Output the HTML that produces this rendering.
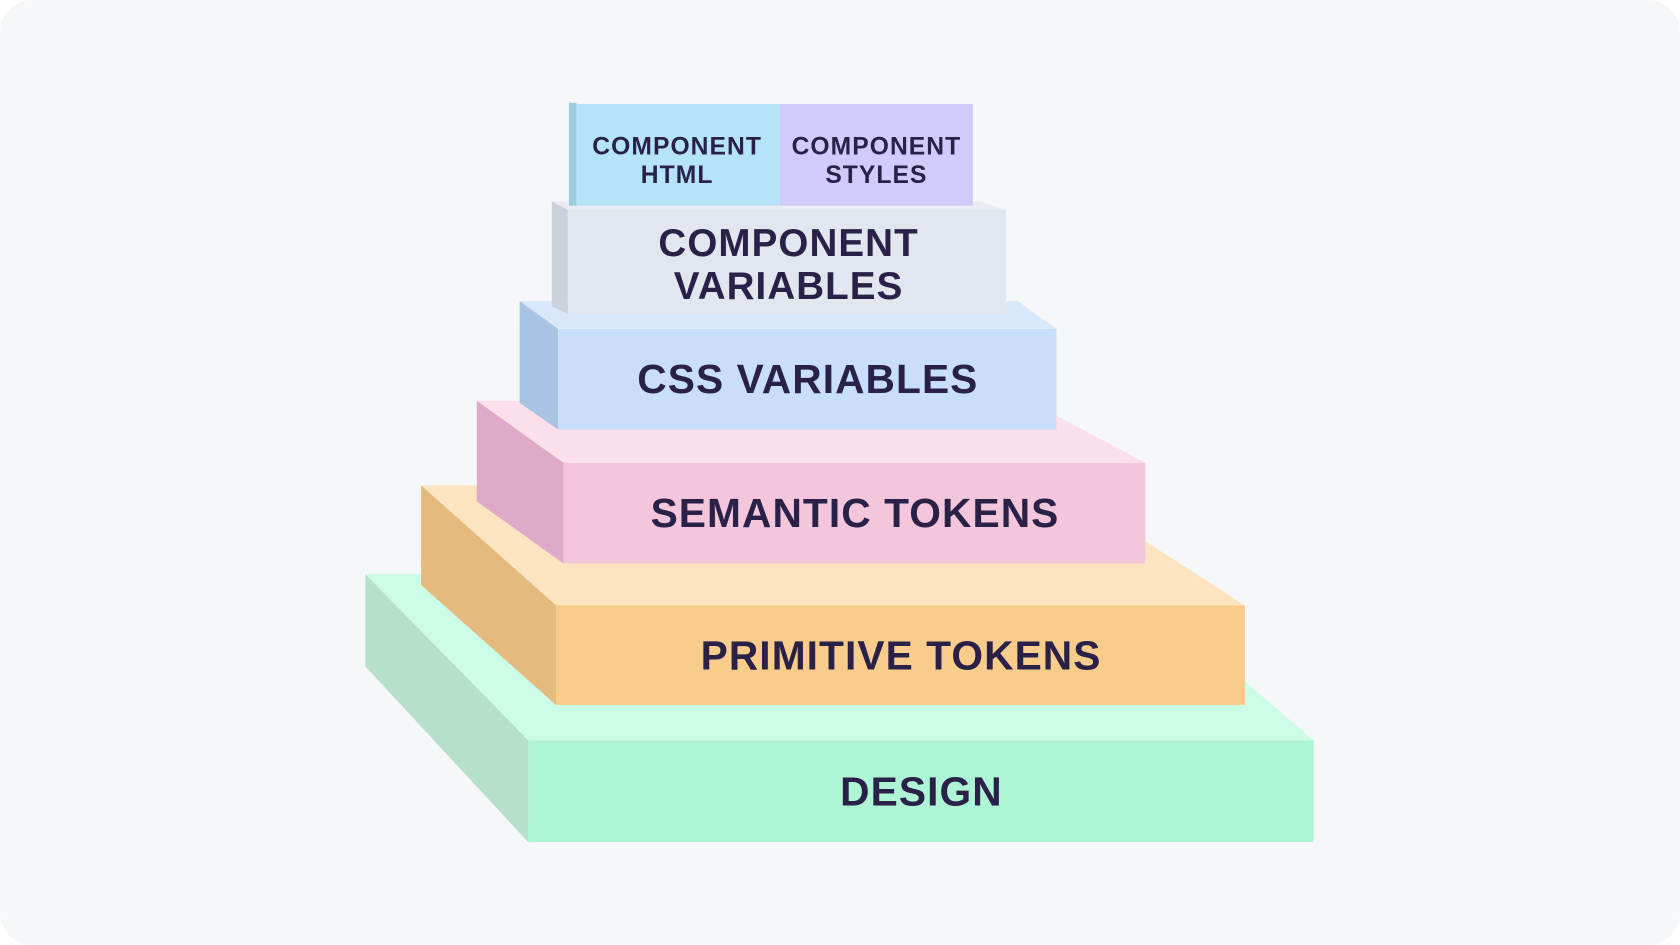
<!DOCTYPE html>
<html><head><meta charset="utf-8"><style>
html,body{margin:0;padding:0;background:#fff;}
svg{display:block}
text{font-family:"Liberation Sans",sans-serif;font-weight:bold;fill:#2a2148;text-anchor:middle;letter-spacing:1px}
</style></head><body>
<svg width="1680" height="945" viewBox="0 0 1568 882" preserveAspectRatio="none">
<rect x="0" y="0" width="1568" height="882" rx="30" fill="#f6f7f9"/>
<!-- Design -->
<polygon points="341,536 1046,536 1226,691 493,691" fill="#ccfbe6"/>
<polygon points="341,536 493,691 493,786 341,622" fill="#b6dfcc"/>
<rect x="493" y="691" width="733" height="95" fill="#aef5d6"/>
<text x="860" y="752" font-size="38">DESIGN</text>
<!-- Primitive -->
<polygon points="393,453 988,453 1162,565 519,565" fill="#fde4c1"/>
<polygon points="393,453 519,565 519,658 393,546" fill="#e4ba7f"/>
<rect x="519" y="565" width="643" height="93" fill="#f8cd8c"/>
<text x="841" y="625" font-size="38">PRIMITIVE TOKENS</text>
<!-- Semantic -->
<polygon points="445,374 960,374 1069,432 526,432" fill="#fbe0ec"/>
<polygon points="445,374 526,432 526,526 445,468" fill="#dfaac7"/>
<rect x="526" y="432" width="543" height="94" fill="#f3c6dc"/>
<text x="798" y="492" font-size="38">SEMANTIC TOKENS</text>
<!-- CSS -->
<polygon points="485,281 950,281 986,307 521,307" fill="#d9e7fa"/>
<polygon points="485,281 521,307 521,401 485,376" fill="#a9c3e3"/>
<rect x="521" y="307" width="465" height="94" fill="#c9def8"/>
<text x="754" y="367" font-size="38">CSS VARIABLES</text>
<!-- Component variables -->
<polygon points="515,188 915,188 939,196 530,196" fill="#e9ecf2"/>
<polygon points="515,188 530,196 530,293 515,286" fill="#c9d1dd"/>
<rect x="530" y="196" width="409" height="97" fill="#e1e6ef"/>
<text x="736" y="239" font-size="36">COMPONENT</text>
<text x="736" y="279" font-size="36">VARIABLES</text>
<!-- Top -->
<rect x="531" y="96" width="7" height="96" fill="#9ccbe0"/>
<rect x="538" y="97" width="190" height="95" fill="#b5e3f8"/>
<rect x="728" y="97" width="180" height="95" fill="#d1cbfb"/>
<text x="632" y="144" font-size="23">COMPONENT</text>
<text x="632" y="171" font-size="23">HTML</text>
<text x="818" y="144" font-size="23">COMPONENT</text>
<text x="818" y="171" font-size="23">STYLES</text>
</svg>
</body></html>
